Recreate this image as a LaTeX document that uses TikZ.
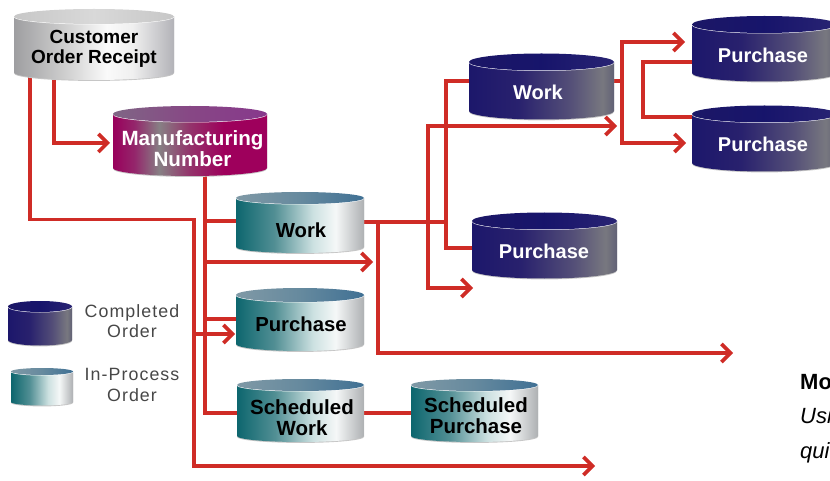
\documentclass[tikz,border=0pt]{standalone}
\usepackage{fontspec}
\setmainfont{Liberation Sans}
\usetikzlibrary{arrows.meta,backgrounds}
\definecolor{linkred}{HTML}{CF2C26}
\pgfdeclarehorizontalshading{sideDark}{100bp}{rgb(0bp)=(0.11,0.09,0.42); rgb(25bp)=(0.11,0.09,0.42); rgb(42bp)=(0.16,0.13,0.43); rgb(60bp)=(0.33,0.31,0.47); rgb(71bp)=(0.47,0.47,0.50); rgb(75bp)=(0.38,0.38,0.46); rgb(100bp)=(0.38,0.38,0.46)}
\pgfdeclarehorizontalshading{topDark}{100bp}{rgb(0bp)=(0.11,0.09,0.40); rgb(25bp)=(0.11,0.09,0.40); rgb(50bp)=(0.09,0.08,0.42); rgb(75bp)=(0.16,0.14,0.45); rgb(100bp)=(0.16,0.14,0.45)}
\pgfdeclarehorizontalshading{sideTeal}{100bp}{rgb(0bp)=(0.05,0.40,0.43); rgb(25bp)=(0.05,0.40,0.43); rgb(40bp)=(0.32,0.56,0.58); rgb(55bp)=(0.80,0.88,0.88); rgb(64bp)=(0.96,0.97,0.97); rgb(75bp)=(0.68,0.69,0.70); rgb(100bp)=(0.68,0.69,0.70)}
\pgfdeclarehorizontalshading{topTeal}{100bp}{rgb(0bp)=(0.50,0.60,0.65); rgb(25bp)=(0.50,0.60,0.65); rgb(50bp)=(0.40,0.54,0.62); rgb(75bp)=(0.25,0.44,0.58); rgb(100bp)=(0.25,0.44,0.58)}
\pgfdeclarehorizontalshading{sideGray}{100bp}{rgb(0bp)=(0.62,0.62,0.63); rgb(25bp)=(0.62,0.62,0.63); rgb(40bp)=(0.80,0.80,0.80); rgb(54bp)=(0.98,0.98,0.98); rgb(62bp)=(0.94,0.94,0.94); rgb(75bp)=(0.70,0.70,0.72); rgb(100bp)=(0.70,0.70,0.72)}
\pgfdeclarehorizontalshading{topGray}{100bp}{rgb(0bp)=(0.78,0.78,0.78); rgb(25bp)=(0.78,0.78,0.78); rgb(50bp)=(0.85,0.85,0.85); rgb(75bp)=(0.78,0.78,0.78); rgb(100bp)=(0.78,0.78,0.78)}
\pgfdeclarehorizontalshading{sideMag}{100bp}{rgb(0bp)=(0.60,0.0,0.36); rgb(25bp)=(0.60,0.0,0.36); rgb(32bp)=(0.58,0.15,0.42); rgb(40bp)=(0.53,0.50,0.52); rgb(50bp)=(0.58,0.20,0.42); rgb(61bp)=(0.62,0.0,0.36); rgb(75bp)=(0.62,0.0,0.36); rgb(100bp)=(0.62,0.0,0.36)}
\pgfdeclarehorizontalshading{topMag}{100bp}{rgb(0bp)=(0.50,0.40,0.52); rgb(25bp)=(0.50,0.40,0.52); rgb(50bp)=(0.53,0.28,0.52); rgb(75bp)=(0.53,0.22,0.55); rgb(100bp)=(0.53,0.22,0.55)}
\tikzset{
  x=1pt,y=-1pt,
  cyltext/.style={font=\bfseries\fontsize{#1}{20.5}\selectfont,align=center,inner sep=0pt},
  onDark/.style={cyltext=#1,text=white},
  onLight/.style={cyltext=#1,text=black},
  legendtext/.style={font=\fontsize{17.8}{20.5}\selectfont\addfontfeatures{LetterSpace=6},text=black!72,align=center,inner sep=0pt},
  conn/.style={draw=linkred,line width=3.7pt,line join=miter},
  arr/.style={conn,-{Straight Barb[length=9pt,width=18pt,line width=3.7pt]}},
  arrtwo/.style={conn,{Straight Barb[length=9pt,width=18pt,line width=3.7pt]}-{Straight Barb[length=9pt,width=18pt,line width=3.7pt]}},
}
% #1 name, #2 left, #3 right, #4 top ellipse centre, #5 bottom ellipse centre, #6 radius y, #7 shading stem
\newcommand{\cyl}[7]{%
  \pgfmathsetmacro{\cx}{(#2+#3)/2}\pgfmathsetmacro{\rx}{(#3-#2)/2}%
  \pgfmathsetmacro{\mid}{(#4+#5)/2}\pgfmathsetmacro{\hh}{#5-#4+2*#6}%
  \pgfmathsetmacro{\ww}{#3-#2}%
  \fill[gray!45] (#2,#4) -- (#2,#5+0.9) arc[start angle=180,end angle=0,x radius=\rx,y radius=#6] -- (#3,#4) -- cycle;
  \shade[shading=side#7] (#2,#4) -- (#2,#5) arc[start angle=180,end angle=0,x radius=\rx,y radius=#6] -- (#3,#4) -- cycle;
  \draw[white,line width=1pt] (#2,#4) arc[start angle=180,end angle=0,x radius=\rx,y radius=#6];
  \shade[shading=top#7] (\cx,#4) ellipse[x radius=\rx,y radius=#6];
  \node[minimum width=\ww pt,minimum height=\hh pt,inner sep=0pt,outer sep=0pt] (#1) at (\cx,\mid) {};
}
\begin{document}
\begin{tikzpicture}
\useasboundingbox (0,0) rectangle (830,481);
\clip (0,0) rectangle (830,481);
\cyl{cor}{14}{174}{16.5}{72.5}{7.5}{Gray}
\cyl{mfg}{113}{267}{114}{168}{8}{Mag}
\cyl{twork}{236}{364}{198}{247}{6}{Teal}
\cyl{tpur}{236}{364}{295}{344}{7}{Teal}
\cyl{swork}{237}{364}{385}{436}{6}{Teal}
\cyl{spur}{411}{538}{385}{436}{6}{Teal}
\cyl{legd}{8}{72}{306.5}{340}{5.5}{Dark}
\cyl{legt}{11}{73}{371.5}{402}{3.5}{Teal}
\cyl{dwork}{469}{614}{62}{111}{8.5}{Dark}
\cyl{dpur}{472}{617}{221}{270}{8.5}{Dark}
\cyl{pura}{692}{837}{24.5}{73}{8.5}{Dark}
\cyl{purb}{692}{837}{114}{163}{8.5}{Dark}
\node[onLight=19] (tcor) at (94,49) {Customer\\Order Receipt};
\node[onDark=20.6] (tmfg) at (192.5,148.5) {Manufacturing\\Number};
\node[onLight=20.3] (ttwork) at (301,230) {Work};
\node[onLight=20.3] (ttpur) at (301,324) {Purchase};
\node[onLight=20.5] (tswork) at (302,417.5) {Scheduled\\Work};
\node[onLight=20.5] (tspur) at (476,415.5) {Scheduled\\Purchase};
\node[onDark=20] (tdwork) at (538,92.5) {Work};
\node[onDark=20] (tdpur) at (544,251.5) {Purchase};
\node[onDark=20] (tpura) at (763,55.5) {Purchase};
\node[onDark=20] (tpurb) at (763,144.5) {Purchase};
\node[legendtext] (lcomp) at (132,321) {Completed\\Order};
\node[legendtext] (lproc) at (132,385) {In-Process\\Order};
\node[anchor=base west,inner sep=0pt,font=\bfseries\fontsize{22}{22}\selectfont] (nb) at (800,389) {Mo};
\node[anchor=base west,inner sep=0pt,font=\itshape\fontsize{22}{22}\selectfont] (ni) at (800,423) {Usi};
\node[anchor=base west,inner sep=0pt,font=\itshape\fontsize{22}{22}\selectfont] (nq) at (800,458) {qui};
\coordinate (a1) at (30,219.5);
\coordinate (a2) at (194,466);
\coordinate (a3) at (595,466);
\coordinate (b1) at (54,143);
\coordinate (b2) at (110,143);
\coordinate (c1) at (205,413);
\coordinate (c2) at (205,221);
\coordinate (c3) at (205,262);
\coordinate (c4) at (373,262);
\coordinate (c5) at (205,319);
\coordinate (d1) at (194,334);
\coordinate (d2) at (235,334);
\coordinate (e1) at (378,222);
\coordinate (e2) at (733,353);
\coordinate (f1) at (428,126);
\coordinate (f2) at (617,126);
\coordinate (f3) at (428,288);
\coordinate (f4) at (473,288);
\coordinate (g1) at (446,81);
\coordinate (g2) at (446,248);
\coordinate (h1) at (622,81);
\coordinate (h2) at (622,42);
\coordinate (h3) at (622,143);
\coordinate (h4) at (685,42);
\coordinate (h5) at (686,143);
\coordinate (i1) at (643,62);
\coordinate (i2) at (643,117);
\begin{scope}[on background layer]
\draw[arr] (cor.center -| a1) -- (a1) -| (a2) -- (a3);
\draw[arr] (cor.center -| b1) -- (b1) -- (b2);
\draw[conn] (mfg.center -| c1) -- (c1) -- (swork.center |- c1);
\draw[conn] (c2) -- (twork.center |- c2);
\draw[arr] (c3) -- (c4);
\draw[conn] (c5) -- (tpur.center |- c5);
\draw[arr] (d1) -- (d2);
\draw[conn] (twork.center |- e1) -- (g1 |- e1);
\draw[arr] (e1) |- (e2);
\draw[arrtwo] (f2) -- (f1) -- (f3) -- (f4);
\draw[conn] (dwork.center |- g1) -- (g1) -- (g2) -- (dpur.center |- g2);
\draw[conn] (dwork.center |- h1) -- (h1);
\draw[arrtwo] (h4) -- (h2) -- (h3) -- (h5);
\draw[conn] (pura.center |- i1) -- (i1) -- (i2) -- (purb.center |- i2);
\draw[conn] (swork.center |- c1) -- (spur.center |- c1);
\end{scope}
\end{tikzpicture}
\end{document}
